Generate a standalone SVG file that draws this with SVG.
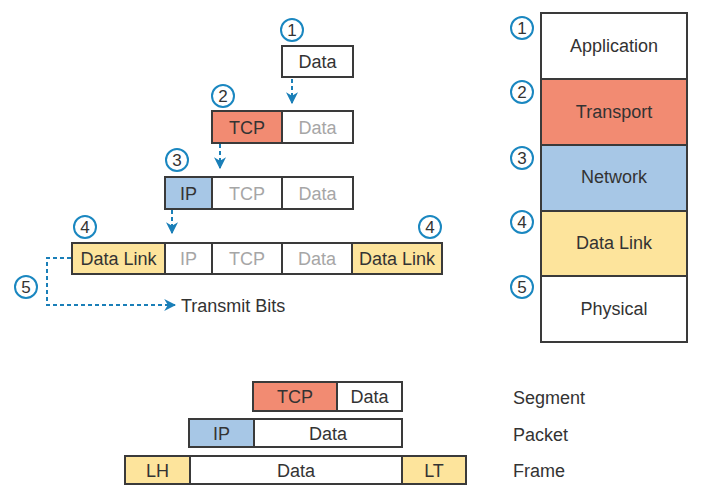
<svg xmlns="http://www.w3.org/2000/svg" width="710" height="496" viewBox="0 0 710 496">
<defs>
<marker id="ah" viewBox="0 0 10 10" refX="9" refY="5" markerWidth="12" markerHeight="12" markerUnits="userSpaceOnUse" orient="auto">
<path d="M0,0 L10,5 L0,10 L3,5 z" fill="#1a7fb8"/>
</marker>
<style>
.b{stroke:#3a3a3a;stroke-width:2}
.w{fill:#fff}
.r{fill:#f28b72}
.bl{fill:#a7c7e6}
.y{fill:#fde49c}
.t{font-family:"Liberation Sans",Arial,sans-serif;font-size:18px;fill:#333;text-anchor:middle}
.g{fill:#a6a6a6}
.l{text-anchor:start}
.c{fill:#fff;stroke:#1a87c0;stroke-width:2}
.n{font-family:"Liberation Sans",Arial,sans-serif;font-size:17px;fill:#333;text-anchor:middle}
.d{fill:none;stroke:#1a7fb8;stroke-width:2;stroke-dasharray:4,3}
</style>
</defs>
<rect width="710" height="496" fill="#fff"/>

<g id="connectors">
<path class="d" d="M292,79 V103" marker-end="url(#ah)"/>
<path class="d" d="M220,144 V168" marker-end="url(#ah)"/>
<path class="d" d="M172,210 V233" marker-end="url(#ah)"/>
<path class="d" d="M71,258 H47 V305 H175" marker-end="url(#ah)"/>
</g>

<g id="step1">
<circle class="c" cx="292" cy="30" r="11"/><text class="n" x="292" y="36">1</text>
<rect class="b w" x="282" y="46" width="71" height="31"/><text class="t" x="317.5" y="68">Data</text>
</g>

<g id="step2">
<circle class="c" cx="223" cy="96" r="11"/><text class="n" x="223" y="102">2</text>
<rect class="b r" x="212" y="111" width="70" height="32"/><text class="t" x="247" y="133.5">TCP</text>
<rect class="b w" x="282" y="111" width="71" height="32"/><text class="t g" x="317.5" y="133.5">Data</text>
</g>

<g id="step3">
<circle class="c" cx="177" cy="160" r="11"/><text class="n" x="177" y="166">3</text>
<rect class="b bl" x="165" y="177" width="47" height="32"/><text class="t" x="188.5" y="199.5">IP</text>
<rect class="b w" x="212" y="177" width="70" height="32"/><text class="t g" x="247" y="199.5">TCP</text>
<rect class="b w" x="282" y="177" width="71" height="32"/><text class="t g" x="317.5" y="199.5">Data</text>
</g>

<g id="step4">
<circle class="c" cx="85" cy="227" r="11"/><text class="n" x="85" y="233">4</text>
<circle class="c" cx="430" cy="227" r="11"/><text class="n" x="430" y="233">4</text>
<rect class="b y" x="72" y="243" width="93" height="31"/><text class="t" x="118.5" y="265">Data Link</text>
<rect class="b w" x="165" y="243" width="47" height="31"/><text class="t g" x="188.5" y="265">IP</text>
<rect class="b w" x="212" y="243" width="70" height="31"/><text class="t g" x="247" y="265">TCP</text>
<rect class="b w" x="282" y="243" width="70" height="31"/><text class="t g" x="317" y="265">Data</text>
<rect class="b y" x="352" y="243" width="90" height="31"/><text class="t" x="397" y="265">Data Link</text>
</g>

<g id="step5">
<circle class="c" cx="26" cy="287" r="11"/><text class="n" x="26" y="293">5</text>
<text class="t l" x="181" y="312">Transmit Bits</text>
</g>

<g id="layers">
<rect class="b w" x="541" y="13" width="146" height="66"/><text class="t" x="614" y="52">Application</text>
<rect class="b r" x="541" y="79" width="146" height="66"/><text class="t" x="614" y="117.5">Transport</text>
<rect class="b bl" x="541" y="145" width="146" height="66"/><text class="t" x="614" y="183">Network</text>
<rect class="b y" x="541" y="211" width="146" height="65"/><text class="t" x="614" y="248.5">Data Link</text>
<rect class="b w" x="541" y="276" width="146" height="66"/><text class="t" x="614" y="314.5">Physical</text>
<circle class="c" cx="522" cy="28" r="11"/><text class="n" x="522" y="34">1</text>
<circle class="c" cx="522" cy="92" r="11"/><text class="n" x="522" y="98">2</text>
<circle class="c" cx="522" cy="158" r="11"/><text class="n" x="522" y="164">3</text>
<circle class="c" cx="522" cy="222" r="11"/><text class="n" x="522" y="228">4</text>
<circle class="c" cx="522" cy="287" r="11"/><text class="n" x="522" y="293">5</text>
</g>

<g id="segment">
<rect class="b r" x="253" y="382" width="84" height="29"/><text class="t" x="295" y="403">TCP</text>
<rect class="b w" x="337" y="382" width="65" height="29"/><text class="t" x="369.5" y="403">Data</text>
<text class="t l" x="513" y="403.5">Segment</text>
</g>

<g id="packet">
<rect class="b bl" x="189" y="419" width="65" height="28"/><text class="t" x="221.5" y="439.5">IP</text>
<rect class="b w" x="254" y="419" width="148" height="28"/><text class="t" x="328" y="439.5">Data</text>
<text class="t l" x="513" y="440.5">Packet</text>
</g>

<g id="frame">
<rect class="b y" x="125" y="456" width="65" height="28"/><text class="t" x="157.5" y="476.5">LH</text>
<rect class="b w" x="190" y="456" width="212" height="28"/><text class="t" x="296" y="476.5">Data</text>
<rect class="b y" x="402" y="456" width="64" height="28"/><text class="t" x="434" y="476.5">LT</text>
<text class="t l" x="513" y="476.5">Frame</text>
</g>
</svg>
